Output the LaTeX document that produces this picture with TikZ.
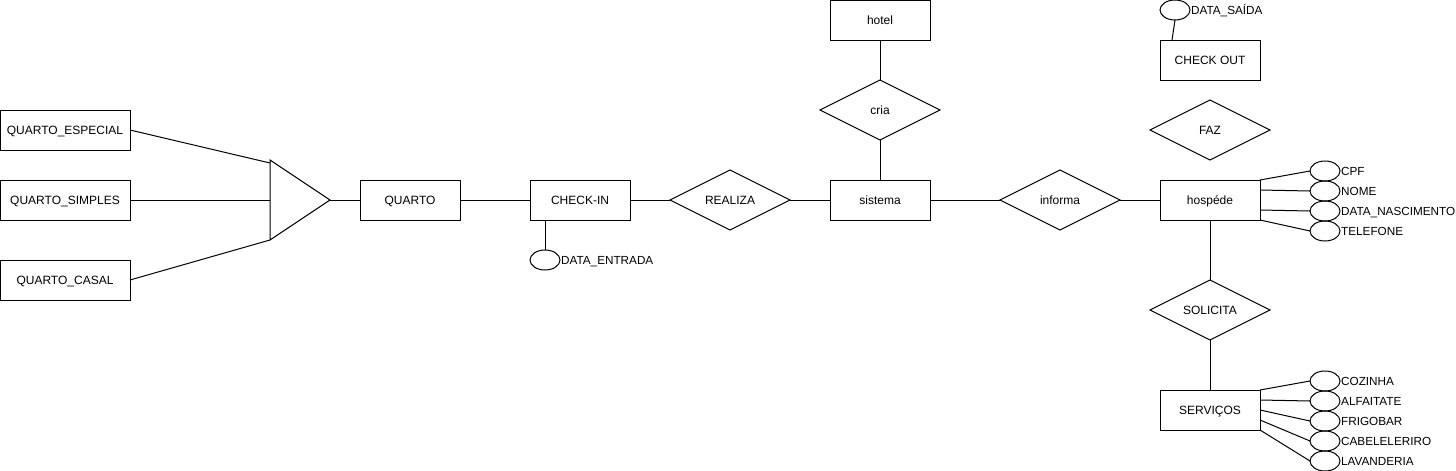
\documentclass[tikz,border=0pt]{standalone}
\usepackage{fontspec}
\setmainfont{Liberation Sans}
\usetikzlibrary{shapes,calc,positioning}

\begin{document}
\begin{tikzpicture}[
        x=0.75pt,y=-0.75pt,
        line width=0.75pt,
        ent/.style={rectangle,draw,inner sep=0pt,outer sep=0pt,minimum width=75pt,minimum height=30pt,text height=6.5pt,text depth=0pt,font=\fontsize{9}{11}\selectfont},
        rel/.style={diamond,draw,inner sep=0pt,outer sep=0pt,aspect=2,minimum width=90pt,minimum height=45pt,text height=6.5pt,text depth=0pt,font=\fontsize{9}{11}\selectfont},
        att/.style={ellipse,draw,inner sep=0pt,outer sep=0pt,minimum width=22.5pt,minimum height=15pt},
        lbl/.style={anchor=west,inner sep=0.5pt,text height=6.5pt,text depth=0pt,font=\fontsize{8.8}{11}\selectfont},
        node distance=30pt
      ]
      \useasboundingbox (0,0) rectangle (1456,471);
      \node (QESP) at (65,130) [ent,minimum width=97.5pt] {QUARTO\_ESPECIAL};
      \node (QSIMP) at (65,200) [ent,minimum width=97.5pt] {QUARTO\_SIMPLES};
      \node (QCAS) at (65,280) [ent,minimum width=97.5pt] {QUARTO\_CASAL};
      \coordinate (TA) at (270,160);
      \coordinate (TB) at (270,240);
      \coordinate (TC) at (330,200);
      \coordinate (T1) at (270,163);
      \coordinate (T2) at (270,200);
      \draw (TA) -- (TB) -- (TC) -- cycle;
      \node (QUARTO) [ent,right=22.5pt of TC] {QUARTO};
      \node (CHKIN) [ent,right=52.5pt of QUARTO] {CHECK-IN};
      \node (REALIZA) [rel,right=of CHKIN] {REALIZA};
      \node (SIS) [ent,right=of REALIZA] {sistema};
      \node (CRIA) [rel,above=of SIS] {cria};
      \node (HOTEL) [ent,above=of CRIA] {hotel};
      \node (INFORMA) [rel,right=52.5pt of SIS] {informa};
      \node (HOSP) [ent,right=of INFORMA] {hospéde};
      \node (FAZ) [rel,above=15pt of HOSP] {FAZ};
      \node (CHKOUT) [ent,above=15pt of FAZ] {CHECK OUT};
      \node (SOLICITA) [rel,below=45pt of HOSP] {SOLICITA};
      \node (SERV) [ent,below=37.5pt of SOLICITA] {SERVIÇOS};
      % atributos
      \node (DENT) at (545,260) [att] {};
      \node (DENTL) [lbl,right=0pt of DENT] {DATA\_ENTRADA};
      \node (DSAI) at (1175,10) [att] {};
      \node (DSAIL) [lbl,right=0pt of DSAI] {DATA\_SAÍDA};
      \node (CPF) at (1325,171) [att] {};
      \node (CPFL) [lbl,right=0pt of CPF] {CPF};
      \node (NOME) at (1325,191) [att] {};
      \node (NOMEL) [lbl,right=0pt of NOME] {NOME};
      \node (DNASC) at (1325,211) [att] {};
      \node (DNASCL) [lbl,right=0pt of DNASC] {DATA\_NASCIMENTO};
      \node (TEL) at (1325,231) [att] {};
      \node (TELL) [lbl,right=0pt of TEL] {TELEFONE};
      \node (COZ) at (1325,381) [att] {};
      \node (COZL) [lbl,right=0pt of COZ] {COZINHA};
      \node (ALF) at (1325,401) [att] {};
      \node (ALFL) [lbl,right=0pt of ALF] {ALFAITATE};
      \node (FRIG) at (1325,421) [att] {};
      \node (FRIGL) [lbl,right=0pt of FRIG] {FRIGOBAR};
      \node (CAB) at (1325,441) [att] {};
      \node (CABL) [lbl,right=0pt of CAB] {CABELELERIRO};
      \node (LAV) at (1325,461) [att] {};
      \node (LAVL) [lbl,right=0pt of LAV] {LAVANDERIA};
      % ligacoes
      \draw (QESP.east) -- (T1);
      \draw (QSIMP.east) -- (T2);
      \draw (QCAS.east) -- (TB);
      \draw (TC) -- (QUARTO);
      \draw (QUARTO) -- (CHKIN) -- (REALIZA) -- (SIS) -- (INFORMA) -- (HOSP);
      \draw (HOTEL) -- (CRIA) -- (SIS);
      \draw (HOSP) -- (SOLICITA) -- (SERV);
      \draw (DENT.north) -- (DENT.north |- CHKIN.south);
      \draw (DSAI.south) -- ($(CHKOUT.north)+(-38,0)$);
      \draw (HOSP.north east) -- (CPF.west);
      \draw ($(HOSP.east)+(0,-10)$) -- (NOME.west);
      \draw ($(HOSP.east)+(0,10)$) -- (DNASC.west);
      \draw (HOSP.south east) -- (TEL.west);
      \draw (SERV.north east) -- (COZ.west);
      \draw ($(SERV.east)+(0,-10)$) -- (ALF.west);
      \draw (SERV.east) -- (FRIG.west);
      \draw ($(SERV.east)+(0,10)$) -- (CAB.west);
      \draw (SERV.south east) -- (LAV.west);
    \end{tikzpicture}
\end{document}
